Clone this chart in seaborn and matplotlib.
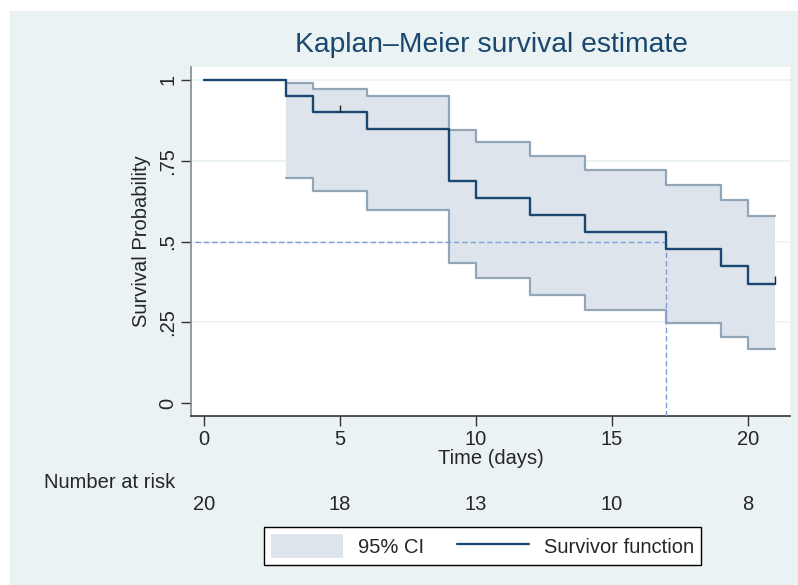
import seaborn as sns
from matplotlib import pyplot as plt
from matplotlib.patches import Patch, Rectangle
from matplotlib.lines import Line2D
import matplotlib.transforms as mtransforms
import pandas as pd

# Kaplan-Meier steps
times = [0, 3, 4, 6, 9, 10, 12, 14, 17, 19, 20, 21]
survival = [1.0, 0.95, 0.90, 0.847, 0.688, 0.635, 0.582, 0.529, 0.476, 0.423, 0.370, 0.370]

# 95% CI band (starts at the first event)
ci_times = [3, 4, 6, 9, 10, 12, 14, 17, 19, 20, 21]
ci_lower = [0.696, 0.656, 0.597, 0.433, 0.386, 0.335, 0.289, 0.248, 0.205, 0.166, 0.166]
ci_upper = [0.992, 0.973, 0.949, 0.846, 0.807, 0.766, 0.720, 0.676, 0.628, 0.578, 0.578]

# censored observations
censor_times = [5, 21]
censor_surv = [0.90, 0.370]

median_time = 17
median_surv = 0.5

risk_times = [0, 5, 10, 15, 20]
risk_counts = [20, 18, 13, 10, 8]

xticks = [0, 5, 10, 15, 20]
yticks = [0, 0.25, 0.5, 0.75, 1]
ytick_labels = ["0", ".25", ".5", ".75", "1"]

navy = "#1a476f"
band_fill = "#dde4eb"
band_edge = "#93a6b8"
bg = "#eaf2f3"
fs = 14.5

sns.set_style("ticks")
plt.rcParams['font.family'] = ['Liberation Sans', 'DejaVu Sans']

fig = plt.figure(figsize=(7.98, 5.85), dpi=100)
fig.patch.set_facecolor("white")
fig.patches.append(Rectangle((10 / 798, 0), 1 - 10 / 798, 1 - 11 / 585,
                             transform=fig.transFigure, facecolor=bg,
                             edgecolor="none", zorder=-10))

ax = fig.add_axes([191 / 798, 1 - 416 / 585, (790 - 191) / 798, (416 - 67) / 585])
ax.set_facecolor("white")

df = pd.DataFrame({"time": times, "surv": survival})
ci = pd.DataFrame({"time": ci_times, "lo": ci_lower, "hi": ci_upper})

ax.fill_between(ci["time"], ci["lo"], ci["hi"], step="post",
                color=band_fill, lw=0, zorder=1)
sns.lineplot(data=ci, x="time", y="lo", drawstyle="steps-post", color=band_edge,
             lw=1.6, ax=ax, zorder=2)
sns.lineplot(data=ci, x="time", y="hi", drawstyle="steps-post", color=band_edge,
             lw=1.6, ax=ax, zorder=2)
sns.lineplot(data=df, x="time", y="surv", drawstyle="steps-post", color=navy,
             lw=1.7, ax=ax, zorder=4)

# censor ticks
ax.vlines(censor_times, censor_surv, [s + 0.022 for s in censor_surv],
          color="#222222", lw=1.0, zorder=5)

ax.set_xlim(-0.48, 21.55)
ax.set_ylim(-0.04, 1.04)

# median survival lines
ax.hlines(median_surv, ax.get_xlim()[0] + 0.15, median_time, color="#7f9fd2",
          lw=1.0, ls=(0, (4, 2)), zorder=3)
ax.vlines(median_time, ax.get_ylim()[0], median_surv, color="#7f9fd2",
          lw=1.0, ls=(0, (4, 2)), zorder=3)

for y in yticks[1:]:
    ax.axhline(y, color=bg, lw=1.2, zorder=0)

ax.set_xticks(xticks)
ax.set_yticks(yticks)
ax.set_yticklabels(ytick_labels, rotation=90, va="center")
ax.tick_params(axis="both", labelsize=fs, length=7, width=1, color="#333333",
               pad=3)
ax.set_xlabel("Time (days)", fontsize=fs, labelpad=0)
ax.set_ylabel("Survival Probability", fontsize=fs, labelpad=5)

sns.despine(ax=ax)
ax.spines["left"].set_color("#888888")
ax.spines["bottom"].set_color("#333333")
ax.spines["left"].set_linewidth(1.2)
ax.spines["bottom"].set_linewidth(1.2)

fig.text(491 / 798, 1 - 45 / 585, "Kaplan\u2013Meier survival estimate",
         fontsize=20.3, color=navy, ha="center", va="center")

# number at risk table
fig.text(44 / 798, 1 - 482 / 585, "Number at risk", fontsize=fs,
         ha="left", va="center")
trans = mtransforms.blended_transform_factory(ax.transData, fig.transFigure)
for t, n in zip(risk_times, risk_counts):
    ax.text(t, 1 - 505 / 585, str(n), transform=trans, fontsize=fs,
            ha="center", va="center")

handles = [Patch(facecolor=band_fill, edgecolor="none"),
           Line2D([0], [0], color=navy, lw=1.6)]
leg = fig.legend(handles, ["95% CI", "Survivor function"], loc="center",
                 bbox_to_anchor=(482.5 / 798, 1 - 546 / 585), ncol=2,
                 fontsize=fs, frameon=True, fancybox=False,
                 edgecolor="black", framealpha=1, handlelength=3.6,
                 handleheight=1.4, handletextpad=0.75, columnspacing=1.6,
                 borderpad=0.35)
leg.get_frame().set_linewidth(1.0)

fig.savefig("out.png", dpi=100)
